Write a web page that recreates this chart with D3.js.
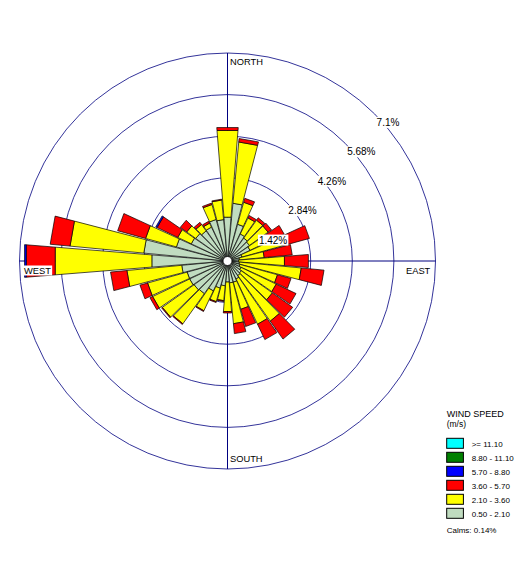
<!DOCTYPE html>
<html><head><meta charset="utf-8">
<script src="https://cdn.jsdelivr.net/npm/d3@7"></script>
<style>
body{margin:0;background:#fff}
svg{display:block}
text{font-family:Arial,"Liberation Sans",sans-serif;fill:#000}
</style>
</head><body><svg id="c" width="520" height="564"></svg>
<script>
// ---- data (percent frequency per direction and speed class) ----
const directions = [10,20,30,40,50,60,70,80,90,100,110,120,130,140,150,160,170,180,
                    190,200,210,220,230,240,250,260,270,280,290,300,310,320,330,340,350,360];
const spd_050_210 = [1.98,1.30,1.02,0.96,0.92,0.85,0.51,0.41,0.38,0.41,0.44,0.51,0.58,0.61,0.68,0.75,0.75,0.72,
                     0.85,0.96,1.13,1.37,1.40,1.43,1.43,1.57,2.59,2.87,1.81,1.37,1.33,1.26,1.28,1.47,1.42,1.50];
const spd_210_360 = [2.10,0.78,0.61,0.75,0.78,0.68,1.43,0.85,1.57,2.12,1.33,1.33,1.30,1.91,1.71,0.96,1.40,1.01,
                     0.51,0.48,0.75,1.26,1.33,1.40,1.40,1.88,3.31,2.53,1.09,0.51,0.38,0.27,0.15,0.53,0.67,2.97];
const spd_360_570 = [0.12,0.14,0.09,0.10,0.14,0.61,0.96,0.96,0.82,0.78,0.48,0.75,0.85,0.75,0.58,0.61,0.34,0.05,
                     0.03,0.03,0.03,0.03,0.03,0.10,0.27,0.56,0.99,0.68,0.99,0.78,0.27,0.09,0.07,0.05,0.03,0.10];
const spd_570_880 = [0,0,0,0,0,0,0,0,0,0,0,0,0,0,0,0,0,0,
                     0,0,0,0,0,0,0,0,0.06,0,0,0.05,0,0,0,0,0,0];
const spd_880_1110 = directions.map(() => 0);
const spd_ge_1110 = directions.map(() => 0);

const speedKeys = ["s0","s1","s2","s3","s4","s5"];
const speedSeries = [spd_050_210, spd_210_360, spd_360_570, spd_570_880, spd_880_1110, spd_ge_1110];
const speedColors = ["#C0DCC0","#FFFF00","#FF0000","#0000FF","#008000","#00FFFF"];
const legendLabels = [">= 11.10","8.80 - 11.10","5.70 - 8.80","3.60 - 5.70","2.10 - 3.60","0.50 - 2.10"];
const legendColors = ["#00FFFF","#008000","#0000FF","#FF0000","#FFFF00","#C0DCC0"];
const ringValues = [1.42,2.84,4.26,5.68,7.1];
const ringLabels = ["1.42%","2.84%","4.26%","5.68%","7.1%"];
const cardinalLabels = ["NORTH","EAST","SOUTH","WEST"];
const legendTitle = "WIND SPEED";
const legendUnit = "(m/s)";
const calmsText = "Calms: 0.14%";

// ---- layout ----
const svg = d3.select("#c");
const cx = 227.5, cy = 261, R = 208;
const rScale = d3.scaleLinear().domain([0, 7.1]).range([0, R]);
const aScale = d3.scaleLinear().domain([0, 360]).range([0, 2*Math.PI]);
const halfW = aScale(4.6);
const navy = "#000080";

const g = svg.append("g").attr("transform", `translate(${cx},${cy})`);

// rings
g.selectAll("circle.ring").data(ringValues).join("circle")
  .attr("class","ring").attr("r", d => rScale(d))
  .attr("fill","none").attr("stroke", navy).attr("stroke-width", 0.8);

// axis lines
g.append("line").attr("x1",0).attr("x2",0).attr("y1",-R).attr("y2",R).attr("stroke",navy).attr("stroke-width",1);
g.append("line").attr("y1",0).attr("y2",0).attr("x1",-R).attr("x2",R).attr("stroke",navy).attr("stroke-width",1);

// stacked bars
const rows = directions.map((d,i) => {
  const o = {dir: d};
  speedKeys.forEach((k,j) => o[k] = speedSeries[j][i]);
  return o;
});
const stacked = d3.stack().keys(speedKeys)(rows);
const radial = d3.lineRadial().angle(p => p[0]).radius(p => p[1]).curve(d3.curveLinearClosed);

stacked.forEach((layer, li) => {
  g.append("g").selectAll("path").data(layer.filter(s => s[1] - s[0] > 0)).join("path")
    .attr("d", s => {
      const a = aScale(s.data.dir);
      const r0 = rScale(s[0]), r1 = rScale(s[1]);
      return radial([[a-halfW, r0],[a+halfW, r0],[a+halfW, r1],[a-halfW, r1]]);
    })
    .attr("fill", speedColors[li]).attr("stroke","#000").attr("stroke-width",0.7)
    .attr("stroke-linejoin","miter");
});

// calm circle
g.append("circle").attr("r",4.5).attr("fill","#fff").attr("stroke","#000").attr("stroke-width",0.8);

// ring labels
const c45 = Math.SQRT1_2;
ringValues.forEach((v,i) => {
  const x = rScale(v)*c45 + 2, y = -rScale(v)*c45 + 12;
  const t = g.append("text").attr("x",x).attr("y",y).attr("font-size",10).text(ringLabels[i]);
  const b = t.node().getBBox();
  g.insert("rect", () => t.node()).attr("x",b.x-1).attr("y",b.y).attr("width",b.width+2).attr("height",b.height)
    .attr("fill","#fff");
});

// cardinal labels
const cardPos = [[230, 64.5],[406, 274],[230, 462],[24, 273.5]];
cardinalLabels.forEach((lab,i) => {
  const t = svg.append("text").attr("x",cardPos[i][0]).attr("y",cardPos[i][1]).attr("font-size",9.3).text(lab);
  if (i === 3) {
    const b = t.node().getBBox();
    svg.insert("rect", () => t.node()).attr("x",b.x-2).attr("y",b.y).attr("width",b.width+3).attr("height",b.height)
      .attr("fill","#fff");
  }
});

// legend
const lg = svg.append("g");
lg.append("text").attr("x",446.7).attr("y",417).attr("font-size",9).text(legendTitle);
lg.append("text").attr("x",446.7).attr("y",426.8).attr("font-size",8.5).text(legendUnit);
legendLabels.forEach((lab,i) => {
  const y0 = 438.3 + i*14;
  lg.append("rect").attr("x",446.7).attr("y",y0).attr("width",16.7).attr("height",10)
    .attr("fill",legendColors[i]).attr("stroke","#000").attr("stroke-width",1);
  lg.append("text").attr("x",471.7).attr("y",y0+8.3).attr("font-size",8).text(lab);
});
lg.append("text").attr("x",446.7).attr("y",532.5).attr("font-size",8).text(calmsText);
</script>
</body></html>
